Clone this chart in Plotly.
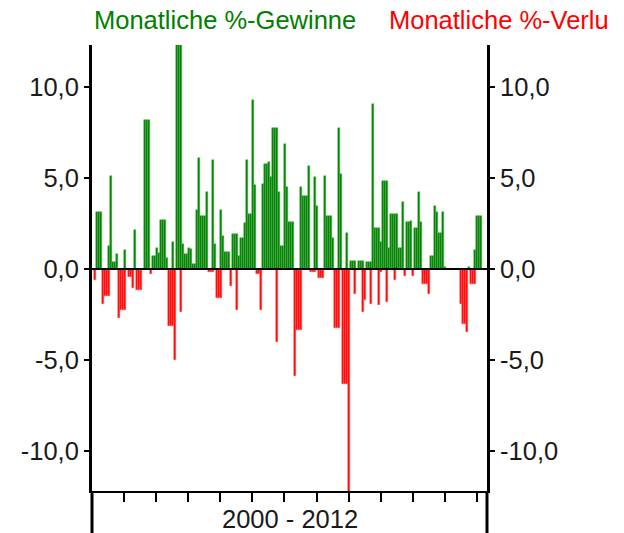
import plotly.graph_objects as go

N = None
# Gains per time slot (2000 - 2012)
gains = [
    N, N, 3.11, 3.11, 3.11, N, N, N, 1.25, 5.1,
    0.4, 0.4, 0.8, N, N, N, 1.05, N, N, N,
    N, 2.15, N, N, N, N, 8.2, 8.2, 8.2, N,
    0.7, 0.7, 1.15, 0.9, 2.7, 2.7, 2.7, 0.6, N, N,
    1.5, N, 14.0, 14.0, 14.0, 1.37, 0.82, 0.82, 1.15, 1.1,
    0.27, 0.27, 3.24, 6.1, 2.93, 2.93, 2.93, 4.2, N, N,
    6.0, 1.37, N, N, 3.24, 1.8, 0.93, 0.93, 0.93, N,
    1.92, 1.92, 1.92, 0.7, 1.7, 1.7, 2.5, 6.0, 3.0, 3.0,
    9.3, 4.6, N, N, N, 4.67, 5.77, 5.77, 5.86, 5.04,
    7.75, 7.75, 7.75, 4.2, 1.25, 1.25, 6.87, 4.5, 2.56, 2.56,
    2.56, N, N, N, 4.5, 4.0, 4.0, 4.0, 5.64, N,
    N, 5.04, 3.44, N, N, N, 5.1, 2.9, 2.9, 2.9,
    1.7, N, N, 7.75, 5.2, N, N, 2.0, N, 0.46,
    0.46, 0.46, N, 0.46, 0.46, 0.46, N, 0.37, 0.37, 0.37,
    9.07, 2.23, 2.23, 2.23, 1.5, 4.85, 4.85, 4.85, 1.15, 3.0,
    3.0, 3.0, 3.0, 1.15, 1.15, 3.66, N, 2.56, 2.56, 2.65,
    N, 2.25, 2.25, 4.2, 2.56, N, N, N, N, 0.7,
    0.7, 3.48, 3.11, 2.0, 2.0, 3.11, 0.13, N, N, N,
    N, N, N, N, N, N, N, N, 0.13, N,
    N, 1.05, 2.9, 2.9, 2.9, N, N,
]

# Losses per time slot
losses = [
    N, -0.6, N, N, N, -1.92, -1.47, -1.47, -1.47, N,
    N, N, N, -2.7, -2.25, -2.25, -2.25, N, -0.46, -0.46,
    -1.05, N, -1.15, -1.15, -1.15, N, N, N, N, -0.27,
    N, N, N, N, N, N, N, N, -3.15, -3.15,
    -3.15, -5.0, N, N, -2.38, N, N, N, N, N,
    N, N, N, N, N, N, N, N, -0.18, -0.18,
    -0.18, N, -1.6, -1.6, -1.6, N, N, N, N, -0.92,
    N, N, -2.25, N, N, N, N, N, N, N,
    N, N, -0.27, -0.27, -2.25, N, N, N, N, N,
    N, N, -4.0, N, N, N, N, N, N, N,
    N, -5.86, -3.35, -3.35, -3.35, N, N, N, N, -0.15,
    -0.15, -0.15, N, -0.5, -0.5, -0.5, N, N, N, N,
    N, -3.24, -3.24, -3.24, N, -6.3, -6.3, -6.3, -13.0, N,
    N, -1.37, N, N, N, -2.38, -1.7, N, N, -1.92,
    N, N, N, -2.0, -0.15, N, N, -1.83, N, N,
    N, -0.6, N, N, N, N, -0.37, N, N, N,
    -0.37, N, N, N, N, -0.82, -0.82, -0.82, -1.37, N,
    N, N, N, N, N, N, N, N, N, N,
    N, N, N, N, -1.92, -3.0, -3.0, -3.48, N, -0.82,
    -0.82, -0.82, N, N, N, N, N,
]

y_ticks = [-10, -5, 0, 5, 10]
y_tick_labels = [f"{v:.1f}".replace(".", ",") for v in y_ticks]
period_label = "2000 - 2012"
gain_label = "Monatliche %-Gewinne"
loss_label = "Monatliche %-Verluste"
n_years = 12

slots = list(range(len(gains)))
slots_per_year = 16.04
x_tickvals = [-0.5 + k * slots_per_year for k in range(n_years + 1)]

FONT = "Liberation Sans, Arial, sans-serif"
GREEN = "#008000"
RED = "#ff0000"
FS = 25.5

fig = go.Figure()
fig.add_trace(go.Bar(
    x=slots, y=gains, marker=dict(color=GREEN, line=dict(color="#4fae4f", width=0.5)),
    name=gain_label, showlegend=False, hoverinfo="skip",
))
fig.add_trace(go.Bar(
    x=slots, y=losses, marker=dict(color=RED, line=dict(color="#ff6060", width=0.5)),
    name=loss_label, showlegend=False, hoverinfo="skip",
))
# invisible trace for the right axis
fig.add_trace(go.Scatter(x=[slots[0]], y=[0], yaxis="y2", mode="markers",
                         marker=dict(opacity=0), showlegend=False, hoverinfo="skip"))

yrange = [-12.2, 12.3]
yax = dict(
    range=yrange, tickvals=y_ticks, ticktext=y_tick_labels,
    ticks="outside", ticklen=5, tickwidth=2, tickcolor="black",
    showline=True, linecolor="black", linewidth=3,
    showgrid=False, zeroline=False, fixedrange=True,
    tickfont=dict(family=FONT, size=FS, color="#1a1a1a"),
)
fig.update_layout(
    width=600, height=525,
    margin=dict(l=84, r=121, t=37, b=42),
    paper_bgcolor="white", plot_bgcolor="white",
    barmode="overlay", bargap=0,
    xaxis=dict(
        range=[-0.5, 197.0], tickvals=x_tickvals, showticklabels=False,
        ticks="outside", ticklen=9, tickwidth=2, tickcolor="black",
        showline=True, linecolor="black", linewidth=2,
        showgrid=False, zeroline=False, fixedrange=True,
    ),
    yaxis=dict(**yax, side="left"),
    yaxis2=dict(**yax, side="right", overlaying="y"),
    shapes=[
        dict(type="line", xref="x", yref="y", x0=-0.5, x1=197.0, y0=0, y1=0,
             line=dict(color="black", width=2), layer="above"),
        dict(type="line", xref="paper", yref="paper", x0=0, x1=0, y0=0, y1=-0.1,
             line=dict(color="black", width=3)),
        dict(type="line", xref="paper", yref="paper", x0=1, x1=1, y0=0, y1=-0.1,
             line=dict(color="black", width=3)),
    ],
    annotations=[
        dict(text=gain_label, xref="paper", yref="paper", x=0, y=1.0, yshift=25,
             xanchor="left", yanchor="middle", showarrow=False,
             font=dict(family=FONT, size=FS, color=GREEN)),
        dict(text=loss_label, xref="paper", yref="paper", x=0.748, y=1.0, yshift=25,
             xanchor="left", yanchor="middle", showarrow=False,
             font=dict(family=FONT, size=FS, color=RED)),
        dict(text=period_label, xref="paper", yref="paper", x=0.5, y=0, yshift=-28,
             xanchor="center", yanchor="middle", showarrow=False,
             font=dict(family=FONT, size=FS, color="#1a1a1a")),
    ],
)

fig.write_html("out.html")
